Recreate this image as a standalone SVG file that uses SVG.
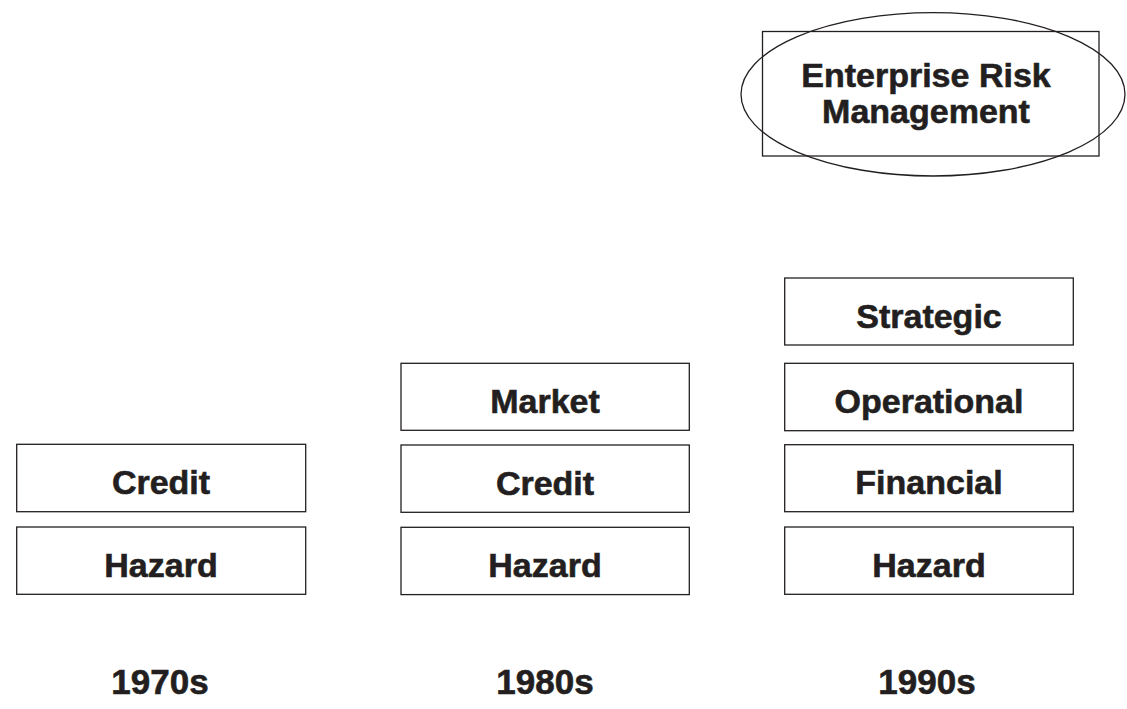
<svg xmlns="http://www.w3.org/2000/svg" width="1127" height="709" viewBox="0 0 1127 709">
<style>
.box{fill:#fff;stroke:#231f20;stroke-width:1.3}
.t{font-family:"Liberation Sans",Arial,sans-serif;font-weight:bold;font-size:34px;fill:#231f20;stroke:#231f20;stroke-width:0.6;text-anchor:middle}
.y{font-size:35px}
.e{font-size:34px}
</style>
<rect width="1127" height="709" fill="#fff"/>
<g id="erm">
<rect class="box" x="762.5" y="31.5" width="336.5" height="124.5"/>
<ellipse cx="933" cy="94.3" rx="192" ry="81.7" fill="none" stroke="#231f20" stroke-width="1.3"/>
<text class="t e" x="926" y="86.7">Enterprise Risk</text>
<text class="t e" x="926" y="122.7">Management</text>
</g>
<g id="c1-credit"><rect class="box" x="16.7" y="444.3" width="289" height="67.4"/><text class="t" x="161" y="493.5">Credit</text></g>
<g id="c1-hazard"><rect class="box" x="16.7" y="527" width="289" height="67.3"/><text class="t" x="161" y="576.7">Hazard</text></g>
<g id="c2-market"><rect class="box" x="401" y="363.3" width="288.3" height="67"/><text class="t" x="545" y="412.8">Market</text></g>
<g id="c2-credit"><rect class="box" x="401" y="445" width="288.3" height="67.3"/><text class="t" x="545" y="494.5">Credit</text></g>
<g id="c2-hazard"><rect class="box" x="401" y="527.3" width="288.3" height="67.3"/><text class="t" x="545" y="577">Hazard</text></g>
<g id="c3-strategic"><rect class="box" x="784.7" y="278" width="288.6" height="67"/><text class="t" x="929" y="327.5">Strategic</text></g>
<g id="c3-operational"><rect class="box" x="784.7" y="363.3" width="288.6" height="67.4"/><text class="t" x="929" y="412.8">Operational</text></g>
<g id="c3-financial"><rect class="box" x="784.7" y="444.7" width="288.6" height="67"/><text class="t" x="929" y="494">Financial</text></g>
<g id="c3-hazard"><rect class="box" x="784.7" y="527" width="288.6" height="67.3"/><text class="t" x="929" y="576.7">Hazard</text></g>
<g id="years">
<text class="t y" x="160" y="694.3">1970s</text>
<text class="t y" x="545" y="694.3">1980s</text>
<text class="t y" x="927" y="694.3">1990s</text>
</g>
<g id="connectors"/>
</svg>
